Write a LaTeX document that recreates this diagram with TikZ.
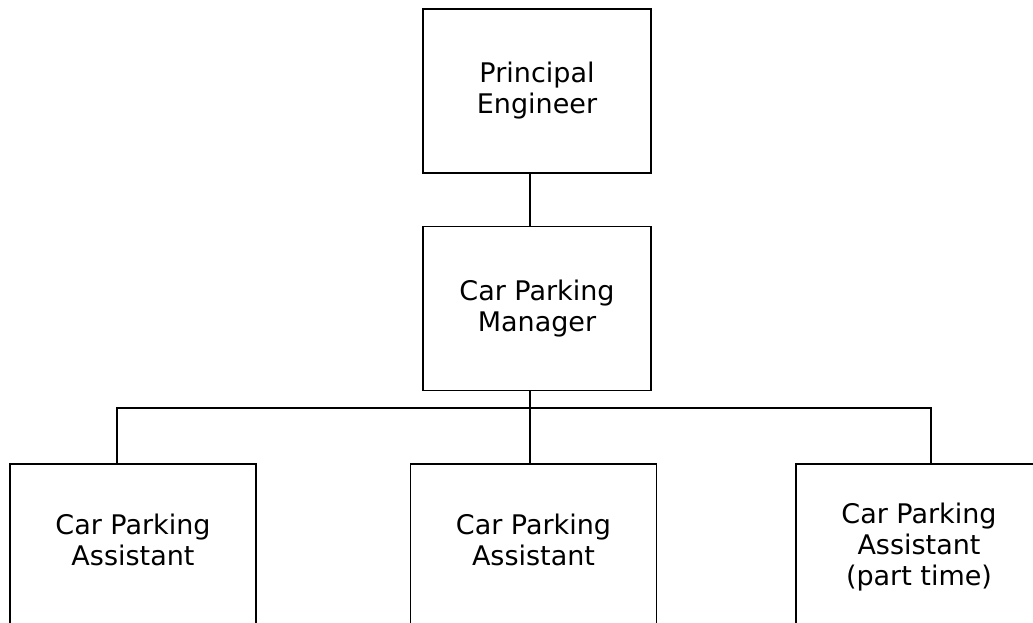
\documentclass[tikz,border=0pt]{standalone}
\usepackage{fontspec}
\setmainfont{DejaVu Sans}
\usetikzlibrary{positioning}
\tikzset{
    box/.style={draw, minimum width=228pt, minimum height=164pt, align=center,
        font=\fontsize{27}{31}\selectfont},
    staff/.style={box, minimum width=246pt},
    txt/.style={align=center, font=\fontsize{27}{31}\selectfont}
}

\begin{document}
\begin{tikzpicture}[x=1pt, y=-1pt, line width=1.5pt]
    \clip (0,0) rectangle (1033,623);
    \node[box] (pe) at (537,91) {Principal\\Engineer};
    \node[box] (mgr) at (537,308.5) {Car Parking\\Manager};

    \node[staff, anchor=north] (pa1) at (133,463) {};
    \node[staff, anchor=north] (pa2) at (533.5,463) {};
    \node[staff, anchor=north] (pa3) at (919,463) {};
    \node[txt] (t1) at ([yshift=-77pt]pa1.north) {Car Parking\\Assistant};
    \node[txt] (t2) at ([yshift=-77pt]pa2.north) {Car Parking\\Assistant};
    \node[txt] (t3) at ([yshift=-84pt]pa3.north) {Car Parking\\Assistant\\(part time)};

    \coordinate (bus) at (530,408);

    \draw ([xshift=-7pt]pe.south) -- ([xshift=-7pt]mgr.north);
    \draw ([xshift=-7pt]mgr.south) -- ([xshift=-3.5pt]pa2.north);
    \draw ([xshift=-16pt]pa1.north) |- (bus) -| ([xshift=12pt]pa3.north);
\end{tikzpicture}
\end{document}
